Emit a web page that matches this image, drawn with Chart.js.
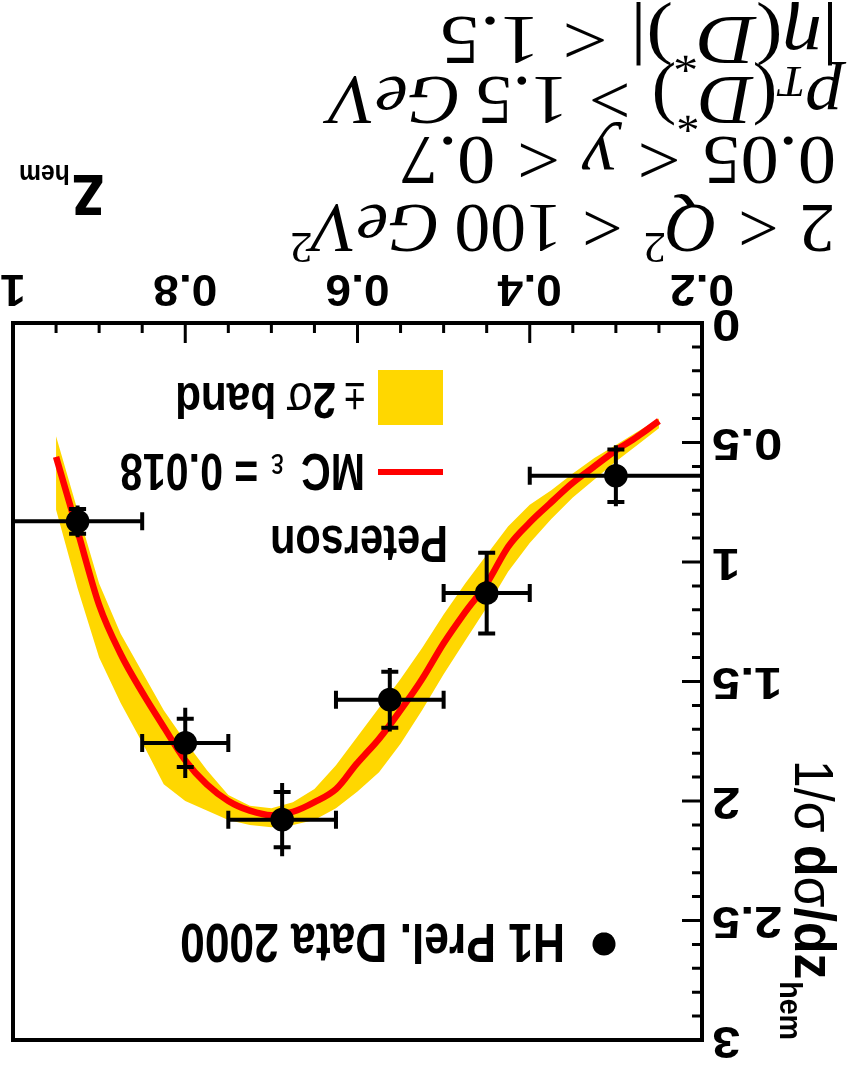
<!DOCTYPE html>
<html>
<head>
<meta charset="utf-8">
<title>D* z_hem</title>
<script src="https://cdn.jsdelivr.net/npm/chart.js@4.4.1/dist/chart.umd.min.js"></script>
<style>
  html, body { margin: 0; padding: 0; background: #fff; }
  #wrap { width: 857px; height: 1066px; transform: rotate(180deg); }
  canvas { display: block; }
</style>
</head>
<body>
<div id="wrap"><canvas id="zhem" width="857" height="1066"></canvas></div>
<script>
// H1 preliminary data 2000, binned in z_hem
var binLo   = [0.2, 0.4, 0.5, 0.625, 0.75, 0.85];
var binHi   = [0.4, 0.5, 0.625, 0.75, 0.85, 1.0];
var zMid    = [0.3, 0.45, 0.5625, 0.6875, 0.8, 0.925];
var dataVal = [0.639, 1.130, 1.576, 2.078, 1.757, 0.830];
var statErr = [0.110, 0.169, 0.117, 0.116, 0.101, 0.052];
var totErr  = [0.128, 0.169, 0.133, 0.153, 0.147, 0.066];

// MC (Peterson, eps = 0.018) and its 2 sigma band
var zGrid  = [0.25, 0.275, 0.3, 0.325, 0.35, 0.375, 0.4, 0.425, 0.45, 0.475, 0.5, 0.525, 0.55, 0.575, 0.6,
              0.625, 0.65, 0.675, 0.7, 0.725, 0.75, 0.775, 0.8, 0.825, 0.85, 0.875, 0.9, 0.925, 0.95];
var mcVal  = [0.41, 0.475, 0.533, 0.60, 0.668, 0.75, 0.835, 0.936, 1.09, 1.21, 1.34, 1.49, 1.62, 1.74, 1.84,
              1.95, 2.005, 2.045, 2.06, 2.04, 2.00, 1.93, 1.83, 1.69, 1.545, 1.385, 1.18, 0.87, 0.56];
var bandLo = [0.40, 0.455, 0.51, 0.565, 0.63, 0.70, 0.76, 0.85, 0.97, 1.09, 1.22, 1.36, 1.49, 1.61, 1.73,
              1.85, 1.95, 2.005, 2.03, 2.02, 1.975, 1.87, 1.75, 1.62, 1.46, 1.30, 1.09, 0.785, 0.474];
var bandHi = [0.44, 0.51, 0.58, 0.655, 0.73, 0.82, 0.92, 1.04, 1.19, 1.33, 1.47, 1.62, 1.76, 1.88, 1.96,
              2.03, 2.08, 2.10, 2.11, 2.10, 2.08, 2.04, 2.00, 1.93, 1.755, 1.59, 1.40, 1.11, 0.781];

var xTickLabels = ['0.2', '0.4', '0.6', '0.8', '1'];
var yTickLabels = ['0', '0.5', '1', '1.5', '2', '2.5', '3'];

var SANS = '"Liberation Sans", Arial, Helvetica, sans-serif';
var SERIF = '"Liberation Serif", "Times New Roman", serif';

function pts(xs, ys) {
  return xs.map(function (x, i) { return {x: x, y: ys[i]}; });
}

// draws a row of text pieces; each piece may have its own font, gap before it and baseline shift
// fitWidth > 10 squeezes the row to that width, a small value is taken as a plain x scale
function drawRuns(ctx, runs, x, y, fitWidth, align) {
  var total = 0;
  runs.forEach(function (r) {
    ctx.font = r.f;
    r.w = ctx.measureText(r.t).width;
    total += (r.gap || 0) + r.w;
  });
  var sx = 1;
  if (fitWidth) sx = fitWidth > 10 ? fitWidth / total : fitWidth;
  ctx.save();
  ctx.translate(x, y);
  ctx.scale(sx, 1);
  if (align === 'center') ctx.translate(-total / 2, 0);
  if (align === 'right') ctx.translate(-total, 0);
  ctx.textAlign = 'left';
  ctx.textBaseline = 'alphabetic';
  var cx = 0;
  runs.forEach(function (r) {
    cx += r.gap || 0;
    ctx.font = r.f;
    ctx.fillText(r.t, cx, r.dy || 0);
    cx += r.w;
  });
  ctx.restore();
}

var errorBars = {
  id: 'errorBars',
  afterDatasetsDraw: function (chart) {
    var ctx = chart.ctx, xs = chart.scales.x, ys = chart.scales.y;
    ctx.save();
    ctx.strokeStyle = '#000';
    ctx.lineWidth = 4;
    ctx.lineCap = 'butt';
    for (var i = 0; i < zMid.length; i++) {
      var px = xs.getPixelForValue(zMid[i]);
      var py = ys.getPixelForValue(dataVal[i]);
      var x1 = xs.getPixelForValue(binLo[i]), x2 = xs.getPixelForValue(binHi[i]);
      ctx.beginPath();
      ctx.moveTo(x1, py); ctx.lineTo(x2, py);
      ctx.moveTo(x1, py - 9); ctx.lineTo(x1, py + 9);
      ctx.moveTo(x2, py - 9); ctx.lineTo(x2, py + 9);
      var yt1 = ys.getPixelForValue(dataVal[i] - totErr[i]);
      var yt2 = ys.getPixelForValue(dataVal[i] + totErr[i]);
      ctx.moveTo(px, yt1); ctx.lineTo(px, yt2);
      var ys1 = ys.getPixelForValue(dataVal[i] - statErr[i]);
      var ys2 = ys.getPixelForValue(dataVal[i] + statErr[i]);
      ctx.moveTo(px - 8.5, ys1); ctx.lineTo(px + 8.5, ys1);
      ctx.moveTo(px - 8.5, ys2); ctx.lineTo(px + 8.5, ys2);
      ctx.stroke();
    }
    ctx.restore();
  }
};

var frameAndText = {
  id: 'frameAndText',
  afterDraw: function (chart) {
    var ctx = chart.ctx, a = chart.chartArea;
    var xs = chart.scales.x, ys = chart.scales.y;
    var v, p, i;
    ctx.save();
    ctx.strokeStyle = '#000';
    ctx.fillStyle = '#000';

    // ticks pointing into the plot
    ctx.lineWidth = 3;
    ctx.beginPath();
    for (i = 0; i <= 16; i++) {
      v = 0.2 + i * 0.05;
      p = xs.getPixelForValue(v);
      ctx.moveTo(p, a.bottom);
      ctx.lineTo(p, a.bottom - (i % 4 === 0 ? 20 : 10));
    }
    for (i = 0; i <= 30; i++) {
      v = i * 0.1;
      p = ys.getPixelForValue(v);
      ctx.moveTo(a.left, p);
      ctx.lineTo(a.left + (i % 5 === 0 ? 20 : 10), p);
    }
    ctx.stroke();

    ctx.lineWidth = 4;
    ctx.strokeRect(a.left, a.top, a.right - a.left, a.bottom - a.top);

    // tick labels
    var tickFont = 'bold 44px ' + SANS;
    xTickLabels.forEach(function (t) {
      drawRuns(ctx, [{t: t, f: tickFont}], xs.getPixelForValue(parseFloat(t)), a.bottom + 48, 1.05, 'center');
    });
    yTickLabels.forEach(function (t) {
      drawRuns(ctx, [{t: t, f: tickFont}], a.left - 10, ys.getPixelForValue(parseFloat(t)) + 13, 1.15, 'right');
    });

    // axis titles
    drawRuns(ctx, [
      {t: 'z', f: 'bold 76px ' + SANS},
      {t: 'hem', f: 'bold 28px ' + SANS, gap: 2, dy: 10}
    ], 752, a.bottom + 148, 86);

    ctx.save();
    ctx.translate(62, 306);
    ctx.rotate(-Math.PI / 2);
    drawRuns(ctx, [
      {t: '1/\u03c3', f: '56px ' + SANS},
      {t: 'd', f: 'bold 58px ' + SANS, gap: 14},
      {t: '\u03c3', f: '56px ' + SANS},
      {t: '/dz', f: 'bold 58px ' + SANS},
      {t: 'hem', f: 'bold 32px ' + SANS, gap: 2, dy: 15}
    ], 0, 0, 280);
    ctx.restore();

    // legend
    drawRuns(ctx, [{t: 'Peterson', f: 'bold 52px ' + SANS}], 409, 540, 178);
    ctx.strokeStyle = '#ff0000';
    ctx.lineWidth = 6;
    ctx.beginPath();
    ctx.moveTo(414, 594); ctx.lineTo(479, 594);
    ctx.stroke();
    drawRuns(ctx, [
      {t: 'MC', f: 'bold 52px ' + SANS},
      {t: '\u03b5', f: '36px ' + SANS, gap: 22},
      {t: '= 0.018', f: 'bold 52px ' + SANS, gap: 16}
    ], 492, 612, 245);
    ctx.fillStyle = '#ffd700';
    ctx.fillRect(414, 641, 65, 55);
    ctx.fillStyle = '#000';
    drawRuns(ctx, [
      {t: '\u00b1', f: '44px ' + SANS},
      {t: '2', f: 'bold 50px ' + SANS, gap: 10},
      {t: '\u03c3', f: '50px ' + SANS},
      {t: 'band', f: 'bold 50px ' + SANS, gap: 12}
    ], 492, 683, 190);
    ctx.beginPath();
    ctx.arc(253, 122, 11.5, 0, Math.PI * 2);
    ctx.fill();
    drawRuns(ctx, [{t: 'H1 Prel. Data 2000', f: 'bold 56px ' + SANS}], 292, 142, 385);

    // kinematic cuts
    var R = '70px ' + SERIF, I = 'italic 70px ' + SERIF;
    var S = '44px ' + SERIF, SI = 'italic 44px ' + SERIF;
    var g = 20;
    drawRuns(ctx, [
      {t: '2', f: R}, {t: '<', f: R, gap: g}, {t: 'Q', f: I, gap: g}, {t: '2', f: S, dy: -28},
      {t: '<', f: R, gap: g}, {t: '100', f: R, gap: g}, {t: 'GeV', f: I, gap: 14}, {t: '2', f: S, dy: -28}
    ], 22, 861, 545);
    drawRuns(ctx, [
      {t: '0.05', f: R}, {t: '<', f: R, gap: g}, {t: 'y', f: I, gap: g},
      {t: '<', f: R, gap: g}, {t: '0.7', f: R, gap: g}
    ], 21, 929, 436);
    drawRuns(ctx, [
      {t: 'p', f: I}, {t: 'T', f: SI, dy: 10}, {t: '(', f: R, gap: 2}, {t: 'D', f: I}, {t: '*', f: S, dy: -26},
      {t: ')', f: R}, {t: '>', f: R, gap: g}, {t: '1.5', f: R, gap: g}, {t: 'GeV', f: I, gap: 14}
    ], 15, 989, 512);
    drawRuns(ctx, [
      {t: '|', f: R}, {t: '\u03b7', f: I}, {t: '(', f: R}, {t: 'D', f: I}, {t: '*', f: S, dy: -26},
      {t: ')', f: R}, {t: '|', f: R}, {t: '<', f: R, gap: g}, {t: '1.5', f: R, gap: g}
    ], 19, 1049, 398);

    ctx.restore();
  }
};

new Chart(document.getElementById('zhem'), {
  type: 'line',
  data: {
    datasets: [
      {
        label: 'H1 Prel. Data 2000',
        data: pts(zMid, dataVal),
        showLine: false,
        pointRadius: 11.8,
        pointBackgroundColor: '#000',
        pointBorderWidth: 0,
        order: 0
      },
      {
        label: 'MC',
        data: pts(zGrid, mcVal),
        borderColor: '#ff0000',
        borderWidth: 6.5,
        pointRadius: 0,
        fill: false,
        cubicInterpolationMode: 'monotone',
        order: 1
      },
      {
        label: 'band low',
        data: pts(zGrid, bandLo),
        borderWidth: 0,
        borderColor: 'rgba(0,0,0,0)',
        pointRadius: 0,
        fill: false,
        order: 3
      },
      {
        label: 'band high',
        data: pts(zGrid, bandHi),
        borderWidth: 0,
        borderColor: 'rgba(0,0,0,0)',
        backgroundColor: '#ffd700',
        pointRadius: 0,
        fill: '-1',
        order: 2
      }
    ]
  },
  options: {
    responsive: false,
    devicePixelRatio: 1,
    animation: false,
    events: [],
    layout: { padding: { top: 26, right: 13, left: 0, bottom: 0 } },
    plugins: { legend: { display: false }, tooltip: { enabled: false } },
    scales: {
      x: {
        type: 'linear', min: 0.2, max: 1,
        ticks: { display: false }, grid: { display: false }, border: { display: false },
        afterFit: function (s) { s.height = 323; }
      },
      y: {
        type: 'linear', min: 0, max: 3,
        ticks: { display: false }, grid: { display: false }, border: { display: false },
        afterFit: function (s) { s.width = 155; }
      }
    }
  },
  plugins: [errorBars, frameAndText]
});
</script>
</body>
</html>
